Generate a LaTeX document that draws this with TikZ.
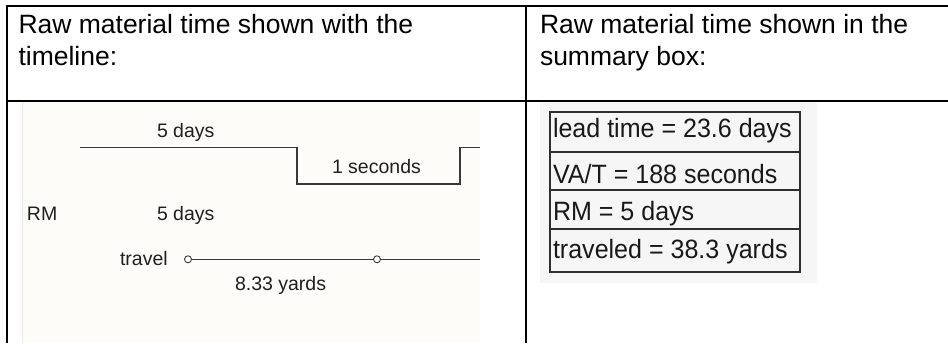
\documentclass[tikz,border=0pt]{standalone}
\usepackage{fontspec}
\setmainfont{Liberation Sans}
\newcommand{\narrowtext}[1]{\scalebox{0.945}[1]{#1}}
\begin{document}
\begin{tikzpicture}[x=1pt,y=-1pt,
  every node/.style={inner sep=0pt,outer sep=0pt},
  headtext/.style={anchor=base west,font=\fontsize{26.5}{31.7}\selectfont},
  shottext/.style={anchor=base west,font=\fontsize{19.5}{22}\selectfont,text=black!88},
  boxtext/.style={anchor=base west,font=\fontsize{26.5}{30}\selectfont,text=black!90},
  rule/.style={line width=2pt,black},
  tline/.style={line width=1.2pt,black!78},
  endmark/.style={circle,draw=black!78,line width=0.9pt,fill=white,minimum size=7pt},
  sumline/.style={line width=1.3pt,black!82}]
\useasboundingbox (0,0) rectangle (948,343);
\fill[white] (0,0) rectangle (948,343);

% screenshot backgrounds
\fill[color={rgb,255:red,253;green,252;blue,248}] (22,102) rectangle (480,343);
\draw[line width=1pt,color={rgb,255:red,238;green,232;blue,216}] (22.5,102) -- (22.5,343);
\fill[color={rgb,255:red,246;green,246;blue,246}] (540,102) rectangle (817,283);

% table rules
\draw[rule] (6,6) -- (948,6);
\draw[rule] (6,100.5) -- (948,100.5);
\draw[rule] (7,5) -- (7,343);
\draw[rule] (526,5) -- (526,343);

% header cells
\node[headtext] (h1a) at (18.5,33.3) {Raw material time shown with the};
\node[headtext] (h1b) at (18.5,65) {timeline:};
\node[headtext] (h2a) at (540,33.3) {Raw material time shown in the};
\node[headtext] (h2b) at (540,65) {summary box:};

% timeline
\draw[tline] (80,147.7) -- (297,147.7) -- (297,184) -- (460,184) -- (460,147.7) -- (480,147.7);
\node[shottext] (d1) at (157,137) {5 days};
\node[shottext] (s1) at (332,173) {1 seconds};
\node[shottext] (rm) at (27,220) {RM};
\node[shottext] (d2) at (157,220) {5 days};
\node[shottext] (tr) at (120,265) {travel};
\node[shottext] (yd) at (235,290) {8.33 yards};
\coordinate (tend) at (480,259.3);
\node[endmark] (c1) at (188,259.3) {};
\node[endmark] (c2) at (377,259.3) {};
\draw[tline] (c1) -- (c2);
\draw[tline] (c2) -- (tend);

% summary box
\draw[sumline] (550,112) rectangle (800,272);
\draw[sumline] (550,152) -- (800,152);
\draw[sumline] (550,190) -- (800,190);
\draw[sumline] (550,229) -- (800,229);
\node[boxtext] (r1) at (553,137) {\narrowtext{lead time = 23.6 days}};
\node[boxtext] (r2) at (553,183) {\narrowtext{VA/T = 188 seconds}};
\node[boxtext] (r3) at (553,220) {\narrowtext{RM = 5 days}};
\node[boxtext] (r4) at (553,258) {\narrowtext{traveled = 38.3 yards}};
\end{tikzpicture}
\end{document}
